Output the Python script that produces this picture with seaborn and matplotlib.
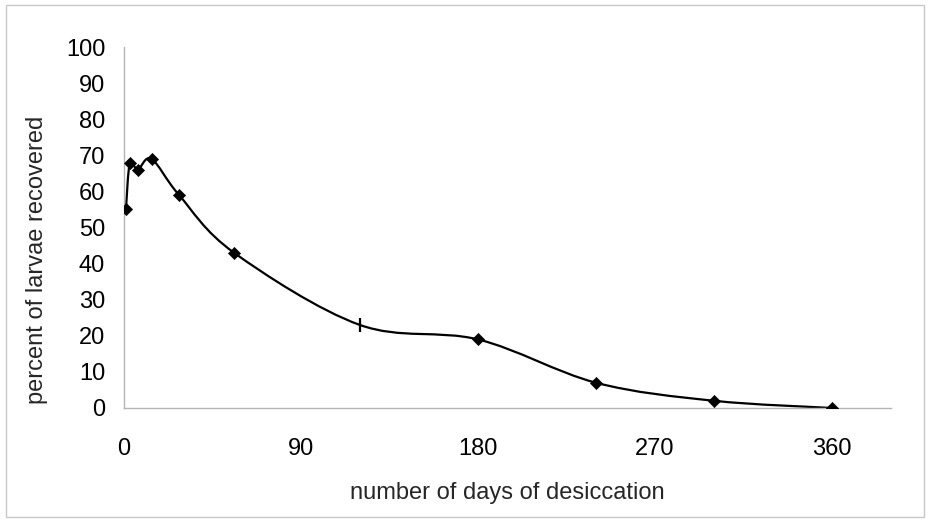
import numpy as np
import pandas as pd
import seaborn as sns
import matplotlib.pyplot as plt
from matplotlib.path import Path
from matplotlib.patches import PathPatch, Rectangle


# Data
days = [1, 3, 7, 14, 28, 56, 120, 180, 240, 300, 360]
recovered = [55, 68, 66, 69, 59, 43, 23, 19, 7, 2, 0]
point_kind = ["d", "d", "d", "d", "d", "d", "t", "d", "d", "d", "d"]

x_ticks = [0, 90, 180, 270, 360]
y_ticks = list(range(0, 101, 10))

AXIS_GREY = "#b4b4b4"
FS = 17


def smooth_path(xs, ys):
    # Excel-like smoothed line: Catmull-Rom segments as cubic Beziers
    pts = np.column_stack([xs, ys]).astype(float)
    padded = np.vstack([pts[0], pts, pts[-1]])
    verts = [tuple(pts[0])]
    codes = [Path.MOVETO]
    for i in range(1, len(padded) - 2):
        p0, p1, p2, p3 = padded[i - 1], padded[i], padded[i + 1], padded[i + 2]
        c1 = p1 + (p2 - p0) / 6.0
        c2 = p2 - (p3 - p1) / 6.0
        verts += [tuple(c1), tuple(c2), tuple(p2)]
        codes += [Path.CURVE4] * 3
    return Path(verts, codes)


df = pd.DataFrame({"days": days, "recovered": recovered, "kind": point_kind})

sns.set_style("white")
plt.rcParams["font.family"] = ["Liberation Sans", "DejaVu Sans"]

fig = plt.figure(figsize=(9.3, 5.23), dpi=100)
ax = fig.add_axes([0.1333, 0.2199, 0.8247, 0.6902])

ax.add_patch(PathPatch(smooth_path(df["days"], df["recovered"]),
                       facecolor="none", edgecolor="black", lw=1.6, zorder=2))

diamonds = df[df["kind"] == "d"]
dashes = df[df["kind"] == "t"]
sns.scatterplot(data=diamonds, x="days", y="recovered", marker="D",
                s=38, color="black", edgecolor="black", ax=ax, zorder=3)
sns.scatterplot(data=dashes, x="days", y="recovered", marker="|",
                s=90, color="black", linewidth=1.6, ax=ax, zorder=3)

ax.set_xlim(0, 390)
ax.set_ylim(0, 100)
ax.set_xticks(x_ticks)
ax.set_xticks(range(0, 391, 30), minor=True)
ax.set_yticks(y_ticks)

for side in ["top", "right"]:
    ax.spines[side].set_visible(False)
for side in ["left", "bottom"]:
    ax.spines[side].set_color(AXIS_GREY)
    ax.spines[side].set_linewidth(1.0)

ax.tick_params(axis="both", which="both", direction="out", color=AXIS_GREY,
               width=1.0, length=4.5, labelsize=FS, labelcolor="black")
ax.tick_params(axis="x", which="major", pad=17)
ax.tick_params(axis="y", pad=9)

ax.set_xlabel("number of days of desiccation", fontsize=FS)
ax.set_ylabel("percent of larvae recovered", fontsize=FS)
ax.xaxis.set_label_coords(0.5, -0.235)
ax.yaxis.set_label_coords(-0.114, 0.41)
ax.xaxis.label.set_va("center")
ax.yaxis.label.set_va("center")

fig.patches.append(Rectangle((0.006, 0.012), 0.988, 0.978,
                             transform=fig.transFigure, fill=False,
                             edgecolor="#c8c8c8", lw=1.0))

fig.savefig("out.png", dpi=100, facecolor="white")
